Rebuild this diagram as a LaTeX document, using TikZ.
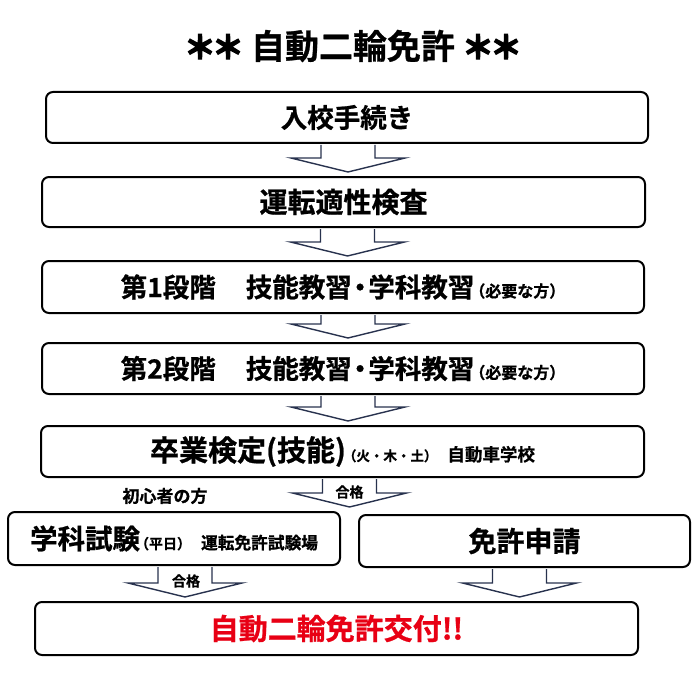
\documentclass[tikz,border=0pt]{standalone}
\usepackage{fontspec}
\setmainfont{Noto Sans CJK JP}[BoldFont={* Bold},BoldFeatures={FakeBold=0.8}]
\newfontfamily\astfont{Noto Sans CJK JP Bold}[FakeBold=4]
\usetikzlibrary{calc}
\newcommand\szT{\fontsize{34}{38}\selectfont\bfseries}
\newcommand\fsz[1]{\fontsize{#1}{#1}\selectfont\bfseries}
\definecolor{arrowc}{RGB}{40,50,78}
\definecolor{redtxt}{RGB}{232,0,20}
\tikzset{
  box/.style={draw=black, line width=2pt, rounded corners=7pt, fill=white,
    inner sep=0pt, anchor=center},
  barrow/.style={draw=arrowc, line width=1.4pt, fill=white, line join=miter},
  lbl/.style={inner sep=0pt, anchor=center},
}
\newcommand\flowarrow[2]{%
  \draw[barrow] let \p1=(#1), \p2=(#2) in
   (\x1-27pt,\y1-1pt) -- (\x1-27pt,\y2+18pt) -- (\x1-57pt,\y2+18pt)
   -- (\x1,\y2+4pt) -- (\x1+57pt,\y2+18pt) -- (\x1+27pt,\y2+18pt)
   -- (\x1+27pt,\y1-1pt);}
\begin{document}
\begin{tikzpicture}[x=1pt,y=-1pt]
\useasboundingbox (0,0) rectangle (700,679);
\node[lbl, font=\szT] (title) at (353,46)
  {{\astfont\fontsize{32}{32}\selectfont ＊\kern-4pt＊}\hspace{7pt}自動二輪免許\hspace{7pt}{\astfont\fontsize{32}{32}\selectfont ＊\kern-4pt＊}};

\node[box, minimum width=602pt, minimum height=51pt] (b1) at (347,117.5)
  {\fsz{26.5}入校手続き};
\node[box, minimum width=603pt, minimum height=50pt] (b2) at (343.5,202)
  {\fsz{28}運転適性検査};
\node[box, minimum width=602pt, minimum height=52pt] (b3) at (343,287)
  {\fsz{26.5}第1段階\hspace{30pt}技能教習\kern-5pt・\kern-5pt学科教習{\fsz{16}\kern-5pt（必要な方）}};
\node[box, minimum width=602pt, minimum height=51pt] (b4) at (343,368.5)
  {\fsz{26.5}第2段階\hspace{30pt}技能教習\kern-5pt・\kern-5pt学科教習{\fsz{16}\kern-5pt（必要な方）}};
\node[box, minimum width=603pt, minimum height=51pt] (b5) at (342.5,451.5)
  {\fsz{29}卒業検定(技能){\fsz{13.5}\kern-3pt（火・木・土）\hspace{10pt}{\fsz{17.5}自動車学校}}};
\node[box, minimum width=332pt, minimum height=53pt] (b6) at (174,538.5)
  {\fsz{27.5}学科試験{\fsz{14}\kern-5pt（平日）\hspace{10pt}{\fsz{16.7}運転免許試験場}}};
\node[box, minimum width=331pt, minimum height=52pt] (b7) at (524.5,541)
  {\fsz{28}免許申請};
\node[box, minimum width=603pt, minimum height=53pt] (b8) at (336.5,628.5)
  {\fsz{29}\color{redtxt}自動二輪免許交付!!};

\flowarrow{$(b1.south)+(1,0)$}{b2.north}
\flowarrow{$(b2.south)+(4,0)$}{b3.north}
\flowarrow{$(b3.south)+(5,0)$}{b4.north}
\flowarrow{$(b4.south)+(5,0)$}{b5.north}
\flowarrow{$(b5.south)+(7,0)$}{b6.north -| b5.south}
\flowarrow{$(b6.south)+(11,0)$}{b8.north}
\flowarrow{$(b7.south)+(-5,0)$}{b8.north}

\node[lbl, font=\fsz{14}] (g1) at ($(b5.south)+(7,14)$) {合格};
\node[lbl, font=\fsz{14}] (g2) at ($(b6.south)+(12,15)$) {合格};
\node[lbl, font=\fsz{17}] (shoshin) at (165,496) {初心者の方};
\end{tikzpicture}
\end{document}
